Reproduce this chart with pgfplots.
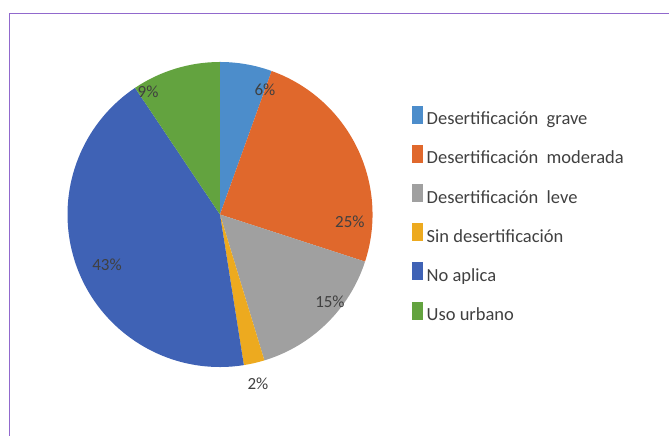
\documentclass[border=0pt]{standalone}
\usepackage{fontspec}
\setmainfont{Carlito}
\usepackage{pgfplots}
\usepackage{pgfplotstable}
\pgfplotsset{compat=1.18}
\definecolor{cgrave}{HTML}{4C8DCB}
\definecolor{cmod}{HTML}{E0682C}
\definecolor{cleve}{HTML}{A0A0A0}
\definecolor{csin}{HTML}{EDAA1F}
\definecolor{cno}{HTML}{3F62B5}
\definecolor{curb}{HTML}{63A33F}
\definecolor{labgray}{HTML}{404040}
\definecolor{framec}{RGB}{145,105,205}
\newcommand\lblfont{\fontsize{17bp}{19bp}\selectfont}
\pgfplotstableread{
val col lab lx ly
5.5 cgrave 6 0.295 0.816
24.5 cmod 25 0.852 -0.049
15.3 cleve 15 0.721 -0.574
2.2 csin 2 0.249 -1.111
43.1 cno 43 -0.741 -0.331
9.4 curb 9 -0.472 0.803
}\piedata
\begin{document}
\begin{tikzpicture}
\useasboundingbox (0,0) rectangle (669bp,436bp);
\begin{axis}[at={(0,0)}, anchor=south west, scale only axis,
  x=152.5bp, y=152.5bp,
  xmin=-1.4426, xmax=2.9443, ymin=-1.4525, ymax=1.4066,
  hide axis, clip=false,
  legend image code/.code={\path (0bp,-4bp) rectangle (11bp,14bp);\fill[#1] (0bp,-1.2bp) rectangle (11bp,10bp);},
  legend cell align=left,
  legend style={at={(0.6154,0.7576)}, anchor=north west, draw=none, fill=none,
    inner sep=0pt, outer sep=0pt, row sep=16.2bp, column sep=4bp,
    font=\fontsize{18.5bp}{20bp}\selectfont, text=labgray,
    nodes={inner sep=0pt, outer sep=0pt, text height=14bp, text depth=4bp}},
]
\pgfmathsetmacro{\cum}{90}
\pgfplotsforeachungrouped \i in {0,...,5}{%
  \pgfplotstablegetelem{\i}{val}\of\piedata \let\slval\pgfplotsretval
  \pgfplotstablegetelem{\i}{col}\of\piedata \let\slcol\pgfplotsretval
  \pgfmathsetmacro{\slend}{\cum-3.6*\slval}%
  \edef\cmd{\noexpand\fill[\slcol] (axis cs:0,0) -- (axis cs:{cos(\cum)},{sin(\cum)}) arc[start angle=\cum, end angle=\slend, radius=152.5bp] -- cycle;}%
  \cmd
  \let\cum\slend
}
\pgfplotsforeachungrouped \i in {0,...,5}{%
  \pgfplotstablegetelem{\i}{lab}\of\piedata \let\sllab\pgfplotsretval
  \pgfplotstablegetelem{\i}{lx}\of\piedata \let\sllx\pgfplotsretval
  \pgfplotstablegetelem{\i}{ly}\of\piedata \let\slly\pgfplotsretval
  \edef\cmd{\noexpand\node[font=\noexpand\lblfont, text=labgray] at (axis cs:\sllx,\slly) {\sllab\noexpand\%};}%
  \cmd
}
\addlegendimage{fill=cgrave, draw=none}
\addlegendentry{Desertificación\ \ grave}
\addlegendimage{fill=cmod, draw=none}
\addlegendentry{Desertificación\ \ moderada}
\addlegendimage{fill=cleve, draw=none}
\addlegendentry{Desertificación\ \ leve}
\addlegendimage{fill=csin, draw=none}
\addlegendentry{Sin desertificación}
\addlegendimage{fill=cno, draw=none}
\addlegendentry{No aplica}
\addlegendimage{fill=curb, draw=none}
\addlegendentry{Uso urbano}
\end{axis}
\draw[framec, line width=1.3bp] (9.5bp,0) -- (9.5bp,422.7bp) -- (669bp,422.7bp);
\end{tikzpicture}
\end{document}
